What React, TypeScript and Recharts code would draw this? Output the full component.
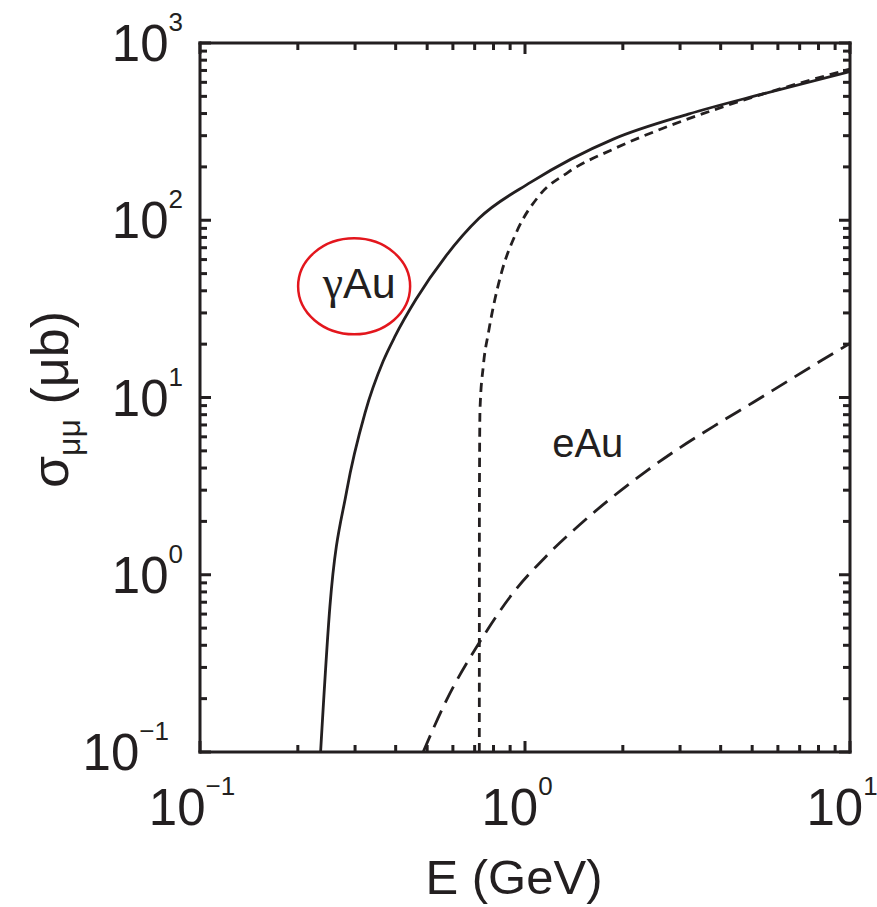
import { LineChart, Line, XAxis, YAxis, ReferenceDot } from "recharts";

const INK = "#231f20";
const RED = "#e3161d";
const FONT = "'Liberation Sans', Arial, Helvetica, sans-serif";

// axis ticks (log axes, decades are labelled)
const X_MIN = 0.1;
const X_MAX = 10;
const Y_MIN = 0.1;
const Y_MAX = 1000;
const X_MAJOR = [0.1, 1, 10];
const X_TICKS = [0.1, 0.2, 0.3, 0.4, 0.5, 0.6, 0.7, 0.8, 0.9, 1, 2, 3, 4, 5, 6, 7, 8, 9, 10];
const Y_MAJOR = [0.1, 1, 10, 100, 1000];
const Y_TICKS = [
  0.1, 0.2, 0.3, 0.4, 0.5, 0.6, 0.7, 0.8, 0.9,
  1, 2, 3, 4, 5, 6, 7, 8, 9,
  10, 20, 30, 40, 50, 60, 70, 80, 90,
  100, 200, 300, 400, 500, 600, 700, 800, 900,
  1000,
];
const EXPONENT: Record<string, string> = { "0.1": "−1", "1": "0", "10": "1", "100": "2", "1000": "3" };

// gamma Au (solid)
const gammaE = [0.235, 0.251, 0.283, 0.322, 0.366, 0.398, 0.462, 0.57, 0.722, 1.043, 1.87, 3.18, 5.36, 10];
const gammaSigma = [0.1, 0.66, 3.0, 8.2, 16, 22.1, 35.8, 62.6, 102.6, 164, 287, 397, 515, 690];

// short dashed
const thrE = [0.7235, 0.724, 0.727, 0.744, 0.772, 0.808, 0.847, 0.941, 1.103, 1.36, 1.87, 2.77, 4.12, 10];
const thrSigma = [0.1, 2.66, 8.55, 15.0, 23.3, 35.8, 50.8, 85.5, 137, 187, 252, 340, 440, 713];

// eAu (long dashed)
const eAuE = [0.486, 0.574, 0.723, 0.92, 1.166, 1.476, 1.866, 2.374, 3.0, 3.98, 5.03, 6.4, 8.09, 10];
const eAuSigma = [0.1, 0.197, 0.413, 0.791, 1.28, 1.92, 2.76, 3.87, 5.22, 7.23, 9.37, 12.3, 16.0, 20.2];

const zip = (xs: number[], ys: number[]) => xs.map((E, i) => ({ E, s: ys[i] }));
const gammaData = zip(gammaE, gammaSigma);
const thrData = zip(thrE, thrSigma);
const eAuData = zip(eAuE, eAuSigma);

const AXIS_LINE = { stroke: INK, strokeWidth: 3, strokeLinecap: "square" as const };
const TW = 3; // tick mark thickness

const tickLen = (v: number, major: number[]) => (major.includes(v) ? 11 : 7);

// inward tick marks, drawn as shapes at axis positions
const tickShape = (dir: "up" | "down" | "right" | "left", len: number) => (p: any) => {
  const { cx, cy } = p;
  if (dir === "up") return <rect x={cx - TW / 2} y={cy - len} width={TW} height={len} fill={INK} />;
  if (dir === "down") return <rect x={cx - TW / 2} y={cy} width={TW} height={len} fill={INK} />;
  if (dir === "right") return <rect x={cx} y={cy - TW / 2} width={len} height={TW} fill={INK} />;
  return <rect x={cx - len} y={cy - TW / 2} width={len} height={TW} fill={INK} />;
};

const BottomLabel = (p: any) => {
  const v = p.payload.value;
  if (!X_MAJOR.includes(v)) return <g />;
  return (
    <text x={Number(p.x) - 8} y={Number(p.y) + 73} textAnchor="middle" fontSize={51} fill={INK} fontFamily={FONT}>
      10<tspan dy={-30} fontSize={26}>{EXPONENT[String(v)]}</tspan>
    </text>
  );
};

const LeftLabel = (p: any) => {
  const v = p.payload.value;
  if (!Y_MAJOR.includes(v)) return <g />;
  return (
    <text x={Number(p.x) - (v < 1 ? 31 : 17)} y={Number(p.y) + 18} textAnchor="end" fontSize={51} fill={INK} fontFamily={FONT}>
      10<tspan dy={-30} fontSize={26}>{EXPONENT[String(v)]}</tspan>
    </text>
  );
};

const XTitle = (p: any) => {
  const vb = p.viewBox || { x: 200, y: 752, width: 650, height: 1 };
  return (
    <text x={vb.x + vb.width / 2 - 11} y={vb.y + 142} textAnchor="middle" fontSize={49} fill={INK} fontFamily={FONT}>
      E (GeV)
    </text>
  );
};

const YTitle = (p: any) => {
  const vb = p.viewBox || { x: 199, y: 43, width: 1, height: 709 };
  const cx = 68;
  const cy = vb.y + vb.height / 2 + 2;
  return (
    <text x={cx} y={cy} transform={`rotate(-90, ${cx}, ${cy})`} textAnchor="middle" fontSize={52} fill={INK} fontFamily={FONT}>
      σ<tspan dy={12} fontSize={32}>μμ</tspan>
      <tspan dy={-12}> (μb)</tspan>
    </text>
  );
};

const GammaLabel = (p: any) => (
  <g>
    <ellipse cx={p.cx} cy={p.cy} rx={56} ry={48} fill="none" stroke={RED} strokeWidth={2.5} />
    <text x={p.cx + 5} y={p.cy + 12} textAnchor="middle" fontSize={43} fill={INK} fontFamily={FONT}>
      <tspan fontFamily="'Liberation Serif', 'DejaVu Serif', serif" fontSize={46}>γ</tspan>Au
    </text>
  </g>
);

const EAuLabel = (p: any) => (
  <text x={p.cx} y={p.cy} textAnchor="middle" fontSize={40} fill={INK} fontFamily={FONT}>
    eAu
  </text>
);

const logX = { type: "number" as const, scale: "log" as const, domain: [X_MIN, X_MAX], allowDataOverflow: true };
const logY = { type: "number" as const, scale: "log" as const, domain: [Y_MIN, Y_MAX], allowDataOverflow: true };
const axisIds = { xAxisId: "b", yAxisId: "l" };

export default function App() {
  return (
    <div style={{ position: "absolute", left: 0, top: 0, background: "#fff" }}>
      <LineChart width={877} height={907} margin={{ top: 42, right: 26, bottom: 154, left: 199 }}>
        <XAxis
          xAxisId="b"
          dataKey="E"
          {...logX}
          ticks={X_TICKS}
          interval={0}
          height={1}
          tickSize={0}
          tickMargin={0}
          tickLine={false}
          axisLine={AXIS_LINE}
          tick={BottomLabel}
          label={XTitle}
        />
        <XAxis xAxisId="t" orientation="top" {...logX} height={1} tick={false} tickLine={false} axisLine={AXIS_LINE} />
        <YAxis
          yAxisId="l"
          dataKey="s"
          {...logY}
          ticks={Y_TICKS}
          interval={0}
          width={1}
          tickSize={0}
          tickMargin={0}
          tickLine={false}
          axisLine={AXIS_LINE}
          tick={LeftLabel}
          label={YTitle}
        />
        <YAxis yAxisId="r" orientation="right" {...logY} width={1} tick={false} tickLine={false} axisLine={AXIS_LINE} />
        <Line
          {...axisIds}
          data={gammaData}
          dataKey="s"
          type="monotone"
          stroke={INK}
          strokeWidth={2.8}
          dot={false}
          isAnimationActive={false}
        />
        <Line
          {...axisIds}
          data={thrData}
          dataKey="s"
          type="monotone"
          stroke={INK}
          strokeWidth={2.8}
          strokeDasharray="9 6"
          dot={false}
          isAnimationActive={false}
        />
        <Line
          {...axisIds}
          data={eAuData}
          dataKey="s"
          type="monotone"
          stroke={INK}
          strokeWidth={2.8}
          strokeDasharray="18 9"
          dot={false}
          isAnimationActive={false}
        />
        {X_TICKS.map((v) => (
          <ReferenceDot key={`b${v}`} {...axisIds} x={v} y={Y_MIN} ifOverflow="visible" shape={tickShape("up", tickLen(v, X_MAJOR))} />
        ))}
        {X_TICKS.map((v) => (
          <ReferenceDot key={`t${v}`} {...axisIds} x={v} y={Y_MAX} ifOverflow="visible" shape={tickShape("down", tickLen(v, X_MAJOR))} />
        ))}
        {Y_TICKS.map((v) => (
          <ReferenceDot key={`l${v}`} {...axisIds} x={X_MIN} y={v} ifOverflow="visible" shape={tickShape("right", tickLen(v, Y_MAJOR))} />
        ))}
        {Y_TICKS.map((v) => (
          <ReferenceDot key={`r${v}`} {...axisIds} x={X_MAX} y={v} ifOverflow="visible" shape={tickShape("left", tickLen(v, Y_MAJOR))} />
        ))}
        <ReferenceDot {...axisIds} x={0.298} y={42.4} ifOverflow="visible" shape={GammaLabel} />
        <ReferenceDot {...axisIds} x={1.56} y={4.64} ifOverflow="visible" shape={EAuLabel} />
      </LineChart>
    </div>
  );
}
